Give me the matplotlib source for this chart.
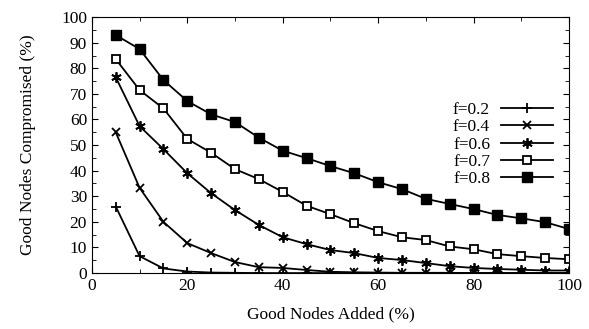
import matplotlib
matplotlib.use('Agg')
import matplotlib.pyplot as plt
from matplotlib.ticker import MultipleLocator

plt.rcParams['font.family'] = ['Liberation Serif', 'DejaVu Serif']

# good nodes added (%)
added = [5, 10, 15, 20, 25, 30, 35, 40, 45, 50, 55, 60, 65, 70, 75, 80, 85, 90, 95, 100]

f02 = [26, 6.6, 1.8, 0.6, 0.2, 0.1, 0, 0, 0, 0, 0, 0, 0, 0, 0, 0, 0, 0, 0, 0]
f04 = [55, 33.3, 20, 11.7, 7.8, 4.3, 2.3, 2.0, 1.2, 0.5, 0.3, 0.2, 0.1, 0.1, 0.1, 0, 0, 0, 0, 0]
f06 = [76.5, 57.4, 48.4, 39, 31.2, 24.6, 18.8, 14, 11.3, 9, 7.8, 5.9, 5.1, 3.9, 2.7, 2.0, 1.6, 1.3, 1.0, 1.0]
f07 = [83.6, 71.5, 64.3, 52.4, 47, 40.6, 36.7, 31.7, 26.3, 23, 19.5, 16.4, 14, 12.9, 10.4, 9.3, 7.4, 6.6, 5.9, 5.4]
f08 = [93, 87.5, 75.4, 67.2, 62, 59, 52.9, 47.8, 44.9, 41.8, 39, 35.5, 32.8, 29, 27, 25, 22.7, 21.4, 19.9, 17.2]

fs = 12.5

fig = plt.figure(figsize=[5.89, 3.29], dpi=100)
ax = fig.add_axes([0.156, 0.170, 0.810, 0.778])

ax.plot(added, f02, color='k', lw=1.3, marker='+', ms=7, mew=1.3, label='f=0.2')
ax.plot(added, f04, color='k', lw=1.3, marker='x', ms=6, mew=1.3, label='f=0.4')
ax.plot(added, f06, color='k', lw=1.3, marker=(6, 2, 0), ms=7.5, mew=1.3, label='f=0.6')
ax.plot(added, f07, color='k', lw=1.3, marker='s', ms=6, mew=1.3, mfc='white', label='f=0.7')
ax.plot(added, f08, color='k', lw=1.3, marker='s', ms=6.5, mew=1.0, mfc='k', label='f=0.8')

ax.set_xlim(0, 100)
ax.set_ylim(0, 100)
ax.xaxis.set_major_locator(MultipleLocator(20))
ax.xaxis.set_minor_locator(MultipleLocator(10))
ax.yaxis.set_major_locator(MultipleLocator(10))
ax.yaxis.set_minor_locator(MultipleLocator(5))
ax.tick_params(which='both', direction='in', top=True, right=True, labelsize=fs)
ax.tick_params(which='major', length=4)
ax.tick_params(which='minor', length=3)

ax.set_xlabel('Good Nodes Added (%)', fontsize=fs, labelpad=9)
ax.set_ylabel('Good Nodes Compromised (%)', fontsize=fs, labelpad=18)

ax.legend(loc='upper right', bbox_to_anchor=(0.993, 0.717), frameon=False, markerfirst=False,
          handlelength=3.0, handletextpad=0.65, fontsize=fs, labelspacing=0.07, borderpad=0.2)

fig.savefig('out.png', dpi=100)
